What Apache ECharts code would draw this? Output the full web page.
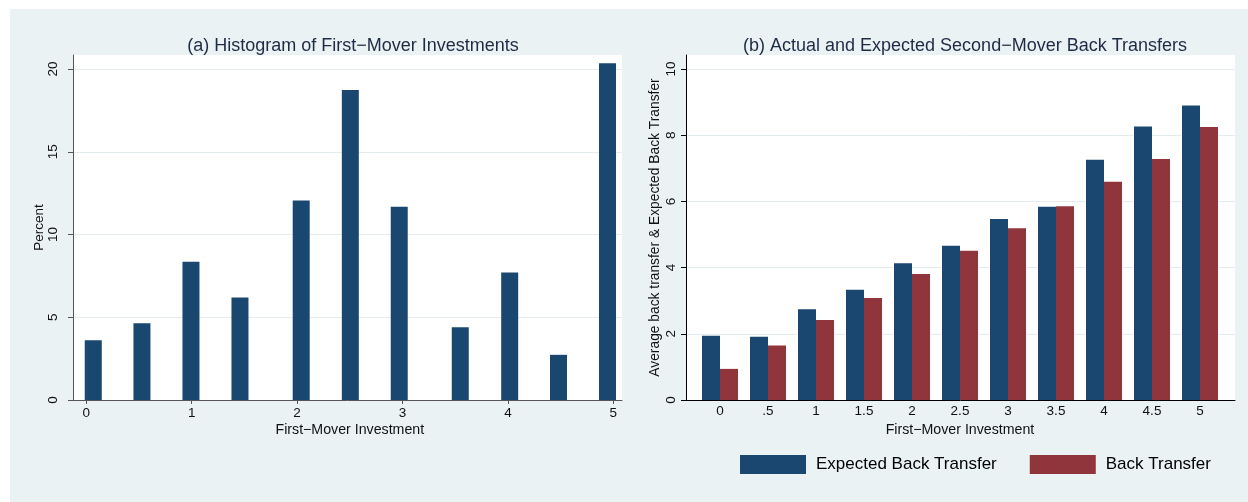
<!DOCTYPE html>
<html>
<head>
<meta charset="utf-8">
<script src="https://cdn.jsdelivr.net/npm/echarts@6/dist/echarts.min.js"></script>
<style>
  html, body { margin: 0; padding: 0; background: #fff; }
  #wrap { position: relative; width: 1248px; height: 502px; }
  #bg { position: absolute; left: 10px; top: 9px; right: 0; bottom: 0; background: #eaf2f3; }
  #chart { position: absolute; left: 0; top: 0; width: 1248px; height: 502px; }
</style>
</head>
<body>
<div id="wrap">
  <div id="bg"></div>
  <div id="chart"></div>
</div>
<script>
// (a) histogram: bar centre on the investment scale, and percent of first movers
const binCenters = [0.066, 0.528, 0.993, 1.458, 2.039, 2.505, 2.969, 3.548, 4.017, 4.480, 4.945]
const binPercent = [3.61, 4.64, 8.35, 6.19, 12.05, 18.73, 11.67, 4.40, 7.71, 2.73, 20.34]

// (b) back transfers per first-mover investment
const investLabels = ['0', '.5', '1', '1.5', '2', '2.5', '3', '3.5', '4', '4.5', '5']
const expectedBack = [1.94, 1.91, 2.74, 3.33, 4.13, 4.66, 5.47, 5.84, 7.26, 8.26, 8.90]
const actualBack = [0.94, 1.65, 2.42, 3.08, 3.81, 4.51, 5.19, 5.85, 6.59, 7.28, 8.25]

const NAVY = '#1a476f'
const MAROON = '#90353b'
const GRIDLINE = '#e4ecef'
const FONT = '"Liberation Sans", Arial, sans-serif'

const chart = echarts.init(document.getElementById('chart'), null, { renderer: 'canvas' })

const hidden = { show: false }
const lineOnly = (color) => ({
  axisLine: { show: true, onZero: false, lineStyle: { color: color, width: 1 } },
  axisTick: hidden,
  axisLabel: hidden,
  splitLine: hidden
})

chart.setOption({
  animation: false,
  textStyle: { fontFamily: FONT },
  title: [
    {
      text: '(a) Histogram of First\u2212Mover Investments',
      left: 348, top: 32, textAlign: 'center',
      textStyle: { fontFamily: FONT, fontSize: 18, fontWeight: 'normal', color: '#1e2b45' }
    },
    {
      text: '(b) Actual and Expected Second\u2212Mover Back Transfers',
      left: 960, top: 32, textAlign: 'center',
      textStyle: { fontFamily: FONT, fontSize: 18, fontWeight: 'normal', color: '#1e2b45' }
    }
  ],
  legend: {
    data: ['Expected Back Transfer', 'Back Transfer'],
    left: 740, top: 455, padding: 0,
    icon: 'rect', itemWidth: 66, itemHeight: 19, itemGap: 33,
    textStyle: { fontFamily: FONT, fontSize: 17, color: '#000', padding: [0, 0, 0, 5] }
  },
  grid: [
    // panel (a): white plot region, y scale, x scale
    { left: 73, top: 55, right: 626, bottom: 102, show: true, backgroundColor: '#fff', borderWidth: 0 },
    { left: 73, top: 69, right: 626, bottom: 102 },
    { left: 86.3, top: 69, right: 634.7, bottom: 102 },
    // panel (b)
    { left: 686, top: 55, right: 13, bottom: 102, show: true, backgroundColor: '#fff', borderWidth: 0 },
    { left: 686, top: 69, right: 13, bottom: 102 },
    { left: 696, top: 69, right: 24, bottom: 102 }
  ],
  xAxis: [
    Object.assign({ gridIndex: 0, type: 'value', min: 0, max: 1 }, lineOnly('#555')),
    { gridIndex: 1, type: 'value', min: 0, max: 1, show: false },
    {
      gridIndex: 2, type: 'value', min: 0, max: 5, interval: 1,
      axisLine: hidden,
      axisTick: { show: true, length: 4, lineStyle: { color: '#555' } },
      axisLabel: { fontSize: 13.5, color: '#111', margin: 6 },
      splitLine: hidden,
      name: 'First\u2212Mover Investment', nameLocation: 'middle', nameGap: 23,
      nameMoveOverlap: false,
      nameTextStyle: { fontSize: 14.2, color: '#111' }
    },
    Object.assign({ gridIndex: 3, type: 'value', min: 0, max: 1 }, lineOnly('#000')),
    { gridIndex: 4, type: 'value', min: 0, max: 1, show: false },
    {
      gridIndex: 5, type: 'category', data: investLabels,
      axisLine: hidden, axisTick: hidden,
      axisLabel: { fontSize: 13.5, color: '#111', margin: 4 },
      name: 'First\u2212Mover Investment', nameLocation: 'middle', nameGap: 23,
      nameMoveOverlap: false,
      nameTextStyle: { fontSize: 14.2, color: '#111' }
    }
  ],
  yAxis: [
    Object.assign({ gridIndex: 0, type: 'value', min: 0, max: 1 }, lineOnly('#555')),
    {
      gridIndex: 1, type: 'value', min: 0, max: 20, interval: 5,
      axisLine: hidden,
      axisTick: { show: true, length: 5, lineStyle: { color: '#555' } },
      axisLabel: { fontSize: 13.5, color: '#111', rotate: 90, margin: 13 },
      splitLine: { show: true, lineStyle: { color: GRIDLINE, width: 1 } },
      name: 'Percent', nameLocation: 'middle', nameGap: 27,
      nameMoveOverlap: false,
      nameTextStyle: { fontSize: 13.5, color: '#111', padding: [0, 0, 0, 14] }
    },
    { gridIndex: 2, type: 'value', min: 0, max: 20, show: false },
    Object.assign({ gridIndex: 3, type: 'value', min: 0, max: 1 }, lineOnly('#000')),
    {
      gridIndex: 4, type: 'value', min: 0, max: 10, interval: 2,
      axisLine: hidden,
      axisTick: { show: true, length: 5, lineStyle: { color: '#000' } },
      axisLabel: { fontSize: 13.5, color: '#111', rotate: 90, margin: 8 },
      splitLine: { show: true, lineStyle: { color: GRIDLINE, width: 1 } },
      name: 'Average back transfer & Expected Back Transfer', nameLocation: 'middle', nameGap: 24,
      nameMoveOverlap: false,
      nameTextStyle: { fontSize: 13.8, color: '#111', padding: [0, 0, 0, 14] }
    },
    { gridIndex: 5, type: 'value', min: 0, max: 10, show: false }
  ],
  series: [
    {
      name: 'Percent',
      type: 'bar',
      xAxisIndex: 2, yAxisIndex: 2,
      data: binCenters.map((x, i) => [x, binPercent[i]]),
      barWidth: 17,
      clip: false,
      itemStyle: { color: NAVY }
    },
    {
      name: 'Expected Back Transfer',
      type: 'bar',
      xAxisIndex: 5, yAxisIndex: 5,
      data: expectedBack,
      barWidth: 18, barGap: '0%',
      itemStyle: { color: NAVY }
    },
    {
      name: 'Back Transfer',
      type: 'bar',
      xAxisIndex: 5, yAxisIndex: 5,
      data: actualBack,
      barWidth: 18, barGap: '0%',
      itemStyle: { color: MAROON }
    }
  ]
})
</script>
</body>
</html>
